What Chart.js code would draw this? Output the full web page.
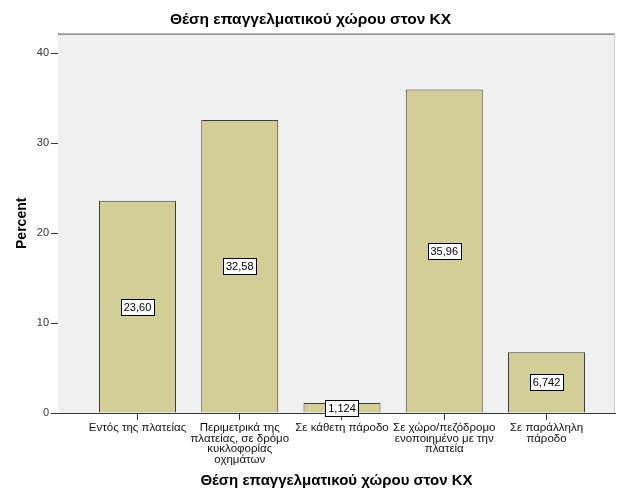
<!DOCTYPE html>
<html>
<head>
<meta charset="utf-8">
<script src="https://cdn.jsdelivr.net/npm/chart.js@4"></script>
<style>
  html, body { margin: 0; padding: 0; background: #ffffff; }
  canvas { display: block; }
</style>
</head>
<body>
<canvas id="c" width="617" height="495"></canvas>
<script>
const chartTitle = "Θέση επαγγελματικού χώρου στον ΚΧ";
const xAxisTitle = "Θέση επαγγελματικού χώρου στον ΚΧ";
const yAxisTitle = "Percent";
const categories = [
  ["Εντός της πλατείας"],
  ["Περιμετρικά της", "πλατείας, σε δρόμο", "κυκλοφορίας", "οχημάτων"],
  ["Σε κάθετη πάροδο"],
  ["Σε χώρο/πεζόδρομο", "ενοποιημένο με την", "πλατεία"],
  ["Σε παράλληλη", "πάροδο"]
];
const percentValues = [23.60, 32.58, 1.124, 35.96, 6.742];
const valueLabels = ["23,60", "32,58", "1,124", "35,96", "6,742"];
const yTicks = [0, 10, 20, 30, 40];

const FONT = "'Liberation Sans', Arial, sans-serif";

const plotFrame = {
  id: 'plotFrame',
  beforeDatasetsDraw(chart) {
    const a = chart.chartArea, ctx = chart.ctx;
    ctx.save();
    ctx.fillStyle = '#f0f0f0';
    ctx.fillRect(a.left, a.top, a.right - a.left, a.bottom - a.top);
    ctx.restore();
  },
  afterDatasetsDraw(chart) {
    const a = chart.chartArea, ctx = chart.ctx;
    ctx.save();
    ctx.strokeStyle = '#555555';
    ctx.lineWidth = 1;
    ctx.beginPath();
    ctx.moveTo(a.left, a.top + 0.5);
    ctx.lineTo(a.right, a.top + 0.5);
    ctx.stroke();
    ctx.strokeStyle = '#cccccc';
    ctx.beginPath();
    ctx.moveTo(a.right - 0.5, a.top);
    ctx.lineTo(a.right - 0.5, a.bottom);
    ctx.stroke();
    // value boxes
    const meta = chart.getDatasetMeta(0);
    ctx.font = "11px " + FONT;
    ctx.textAlign = 'center';
    ctx.textBaseline = 'middle';
    meta.data.forEach((bar, i) => {
      const txt = valueLabels[i];
      const cy = (bar.y + bar.base) / 2;
      const w = Math.round(ctx.measureText(txt).width) + 5;
      const h = 16;
      const x0 = Math.round(bar.x - w / 2) + 0.5;
      const y0 = Math.round(cy - h / 2) + 0.5;
      ctx.fillStyle = '#ffffff';
      ctx.fillRect(x0, y0, w, h);
      ctx.strokeStyle = '#000000';
      ctx.lineWidth = 1;
      ctx.strokeRect(x0, y0, w, h);
      ctx.fillStyle = '#000000';
      ctx.fillText(txt, bar.x, y0 + h / 2 + 0.5);
    });
    ctx.restore();
  }
};

new Chart(document.getElementById('c'), {
  type: 'bar',
  data: {
    datasets: [{
      data: percentValues.map((v, i) => ({ x: i, y: v })),
      backgroundColor: '#d3ce97',
      borderColor: '#3c3c3c',
      borderWidth: 1,
      barPercentage: 0.753,
      categoryPercentage: 1.0
    }]
  },
  options: {
    responsive: false,
    animation: false,
    layout: { padding: { left: 6, right: 2, top: 0, bottom: 5 } },
    plugins: {
      legend: { display: false },
      tooltip: { enabled: false },
      title: {
        display: true,
        text: chartTitle,
        color: '#000000',
        font: { family: FONT, size: 15.5, weight: 'bold' },
        padding: { top: 10, bottom: 5 }
      }
    },
    scales: {
      x: {
        type: 'linear',
        offset: false,
        min: -0.7775,
        max: 4.67,
        afterBuildTicks(axis) { axis.ticks = categories.map((_, i) => ({ value: i })); },
        afterFit(axis) { axis.height = 77; },
        ticks: {
          autoSkip: false,
          maxRotation: 0,
          minRotation: 0,
          padding: 2,
          color: '#111111',
          font: { family: FONT, size: 11.5, lineHeight: 0.95 },
          callback: (v) => categories[v]
        },
        grid: {
          display: true,
          offset: false,
          drawOnChartArea: false,
          drawTicks: true,
          tickLength: 7,
          color: '#333333'
        },
        border: { display: true, color: '#333333', width: 1 },
        title: {
          display: true,
          text: xAxisTitle,
          color: '#000000',
          font: { family: FONT, size: 15, weight: 'bold' },
          padding: { top: 4, bottom: 0 }
        }
      },
      y: {
        min: 0,
        max: 42.17,
        afterBuildTicks(axis) { axis.ticks = yTicks.map(v => ({ value: v })); },
        afterFit(axis) { axis.width = 52; },
        ticks: {
          padding: 2,
          color: '#333333',
          font: { family: FONT, size: 11 }
        },
        grid: {
          display: true,
          drawOnChartArea: false,
          drawTicks: true,
          tickLength: 7,
          color: '#333333'
        },
        border: { display: true, color: '#333333', width: 1 },
        title: {
          display: true,
          text: yAxisTitle,
          color: '#000000',
          font: { family: FONT, size: 14, weight: 'bold' },
          padding: { top: 8, bottom: 0 }
        }
      }
    }
  },
  plugins: [plotFrame]
});
</script>
</body>
</html>
